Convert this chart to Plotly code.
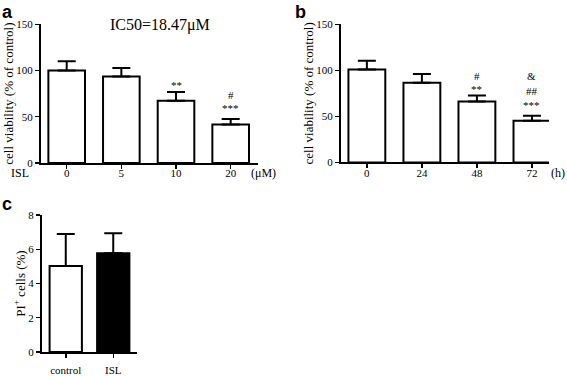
import plotly.graph_objects as go

W, H = 567, 376

# Panel a: dose response
a_cats = ["0", "5", "10", "20"]
a_vals = [100, 93.4, 67.4, 41.7]
a_err = [10, 9.4, 9.3, 5.9]

# Panel b: time course
b_cats = ["0", "24", "48", "72"]
b_vals = [101, 86.5, 66.3, 45.3]
b_err = [9.5, 9.4, 6.3, 5.3]

# Panel c: PI+ cells
c_cats = ["control", "ISL"]
c_vals = [5.03, 5.78]
c_err = [1.87, 1.17]
c_colors = ["white", "black"]

# significance marks: (category, y value, text)
a_marks = [("10", 84, "**"), ("20", 73.5, "#"), ("20", 59, "***")]
b_marks = [("48", 94, "#"), ("48", 80, "**"), ("72", 94, "&"), ("72", 78, "##"), ("72", 62, "***")]

SERIF = "Liberation Serif, Times New Roman, serif"
SANS = "Liberation Sans, Arial, sans-serif"

def px_x(p):
    return p / W

def px_y(p):
    return (H - p) / H

fig = go.Figure()

def bar(x, y, err, xa, ya, color="white", width=0.67):
    fig.add_trace(go.Bar(
        x=x, y=y, xaxis=xa, yaxis=ya, width=width,
        marker=dict(color=color, line=dict(color="black", width=2)),
        error_y=dict(type="data", array=err, arrayminus=[0] * len(err), symmetric=False,
                     color="black", thickness=2, width=9),
        showlegend=False, hoverinfo="skip",
    ))

bar(a_cats, a_vals, a_err, "x", "y")
bar(b_cats, b_vals, b_err, "x2", "y2")
bar(c_cats, c_vals, c_err, "x3", "y3", color=c_colors, width=0.68)

axis_common = dict(showline=True, linecolor="black", linewidth=2, ticks="outside",
                   ticklen=4, tickwidth=1.5, tickcolor="black", showgrid=False,
                   zeroline=False, tickfont=dict(family=SERIF, size=11, color="black"))
ytitle_font = dict(family=SERIF, size=13, color="black")

fig.update_layout(
    width=W, height=H, margin=dict(l=0, r=0, t=0, b=0),
    paper_bgcolor="white", plot_bgcolor="white", hovermode=False,
    xaxis=dict(domain=[px_x(41), px_x(258)], anchor="y", type="category",
               range=[-0.47, 3.5], ticklabelstandoff=-5, **axis_common),
    yaxis=dict(domain=[px_y(163), px_y(19)], anchor="x", range=[0, 150],
               tickvals=[0, 50, 100, 150],
               title=dict(text="cell viability (% of control)", standoff=0, font=ytitle_font),
               **axis_common),
    xaxis2=dict(domain=[px_x(341), px_x(549)], anchor="y2", type="category",
                range=[-0.47, 3.31], ticklabelstandoff=-5, **axis_common),
    yaxis2=dict(domain=[px_y(162.5), px_y(19)], anchor="x2", range=[0, 150],
                tickvals=[0, 50, 100, 150],
                title=dict(text="cell viability (% of control)", standoff=0, font=ytitle_font),
                **axis_common),
    xaxis3=dict(domain=[px_x(42), px_x(137)], anchor="y3", type="category",
                range=[-0.5, 1.5], ticklabelstandoff=3, **axis_common),
    yaxis3=dict(domain=[px_y(359.3), px_y(217.3)], anchor="x3", range=[0, 8],
                tickvals=[0, 2, 4, 6, 8],
                title=dict(text="PI<sup>+</sup> cells (%)", standoff=0, font=ytitle_font),
                **axis_common),
)

ann = []
mark_font = dict(family=SERIF, size=11, color="black")
for cat, yv, txt in a_marks:
    ann.append(dict(x=a_cats.index(cat), y=yv, xref="x", yref="y", text=txt,
                    showarrow=False, font=mark_font))
for cat, yv, txt in b_marks:
    ann.append(dict(x=b_cats.index(cat), y=yv, xref="x2", yref="y2", text=txt,
                    showarrow=False, font=mark_font))

def paper_text(x, y, txt, size=12, family=SERIF, bold=False):
    ann.append(dict(x=px_x(x), y=px_y(y), xref="paper", yref="paper",
                    text=f"<b>{txt}</b>" if bold else txt, showarrow=False,
                    xanchor="center", yanchor="middle",
                    font=dict(family=family, size=size, color="black")))

paper_text(160, 20, "IC50=18.47μM", size=16)
paper_text(20, 173, "ISL")
paper_text(263, 173, "(μM)")
paper_text(558, 173, "(h)")
paper_text(7, 6, "a", size=18, family=SANS, bold=True)
paper_text(300, 6, "b", size=18, family=SANS, bold=True)
paper_text(7, 206, "c", size=18, family=SANS, bold=True)

fig.update_layout(annotations=ann)
fig.write_html("out.html", config={"displayModeBar": False, "staticPlot": True},
               post_script="document.body.style.margin='0';document.body.style.overflow='hidden';")
